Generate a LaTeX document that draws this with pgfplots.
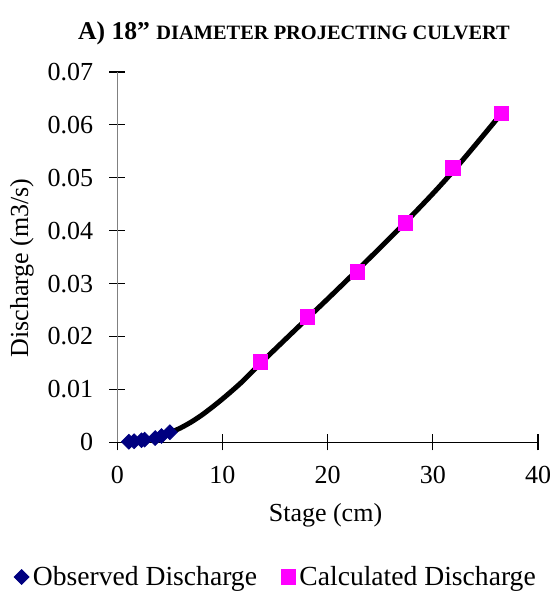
\documentclass[border=0pt]{standalone}
\usepackage{fontspec}
\setmainfont{Liberation Serif}
\usepackage{pgfplots}
\pgfplotsset{compat=1.18}
\usetikzlibrary{calc}
\definecolor{obsblue}{HTML}{000080}
\definecolor{calcmag}{HTML}{FF00FF}
\begin{document}
\begin{tikzpicture}
\begin{axis}[name=ax, scale only axis, width=210.35pt, height=185.15pt,
  xmin=0, xmax=40, ymin=0, ymax=0.07,
  scaled y ticks=false, scaled x ticks=false,
  axis lines=left, axis line style={-, line width=0.7pt},
  y axis line style={gray},
  tick align=center, major tick length=8pt, tick style={black, line width=0.6pt},
  xtick={0,10,20,30,40}, xticklabels={0,10,20,30,40},
  ytick={0,0.01,0.02,0.03,0.04,0.05,0.06,0.07},
  yticklabels={0,0.01,0.02,0.03,0.04,0.05,0.06,0.07},
  ticklabel style={font=\fontsize{13}{15}\selectfont},
  yticklabel style={xshift=-4.5pt},
  xticklabel style={yshift=-4.5pt},
  clip=false,
  legend style={at={(0.3796,-0.3638)}, anchor=center, draw=none, legend columns=2,
    font=\fontsize{13.8}{16}\selectfont,
    /tikz/every even column/.append style={column sep=10pt}},
  legend cell align=left,
]
\addplot[only marks, mark=square*, mark size=2.6pt, mark options={rotate=45}, color=obsblue] coordinates {
  (1.1,0.0001) (1.6,0.0002) (2.3,0.0004) (2.6,0.0005) (3.6,0.0008) (4.2,0.0012) (5.0,0.0019)
};
\addlegendentry{Observed Discharge}
\addplot[only marks, mark=square*, mark size=3.6pt, color=calcmag] coordinates {
  (13.6,0.0152) (18.1,0.0237) (22.8,0.0322) (27.4,0.0415) (31.9,0.0519) (36.5,0.0622)
};
\addlegendentry{Calculated Discharge}
\addplot[forget plot, smooth, black, line width=2.5pt, line cap=round] coordinates {
  (1,0.0000) (2,0.0002) (3,0.0006) (4,0.0011) (5,0.0018) (6,0.0027) (7,0.0038)
  (8,0.0051) (9,0.0066) (10,0.0082) (11,0.0099) (12,0.0117) (13.6,0.0149)
  (16,0.0195) (18.1,0.0235) (20,0.0271) (22.8,0.0325) (25,0.0368) (27.4,0.0416)
  (30,0.0470) (32,0.0514) (34,0.0561) (36.5,0.0621)
};
\end{axis}
\node[anchor=center, font=\fontsize{13}{15}\selectfont] at ($(ax.south west)+(104.1pt,-36.35pt)$) {Stage (cm)};
\node[anchor=center, rotate=90, font=\fontsize{13}{15}\selectfont] at ($(ax.south west)+(-47.65pt,87.15pt)$) {Discharge (m3/s)};
\node[anchor=center] at ($(ax.north west)+(88.35pt,19.5pt)$) {\bfseries\fontsize{12.8}{14}\selectfont A) 18” {\fontsize{10.2}{12}\selectfont DIAMETER PROJECTING CULVERT}};
\pgfresetboundingbox
\path[use as bounding box] ($(ax.south west)+(-58.65pt,-79.85pt)$) rectangle ($(ax.north east)+(9pt,36pt)$);
\end{tikzpicture}
\end{document}
